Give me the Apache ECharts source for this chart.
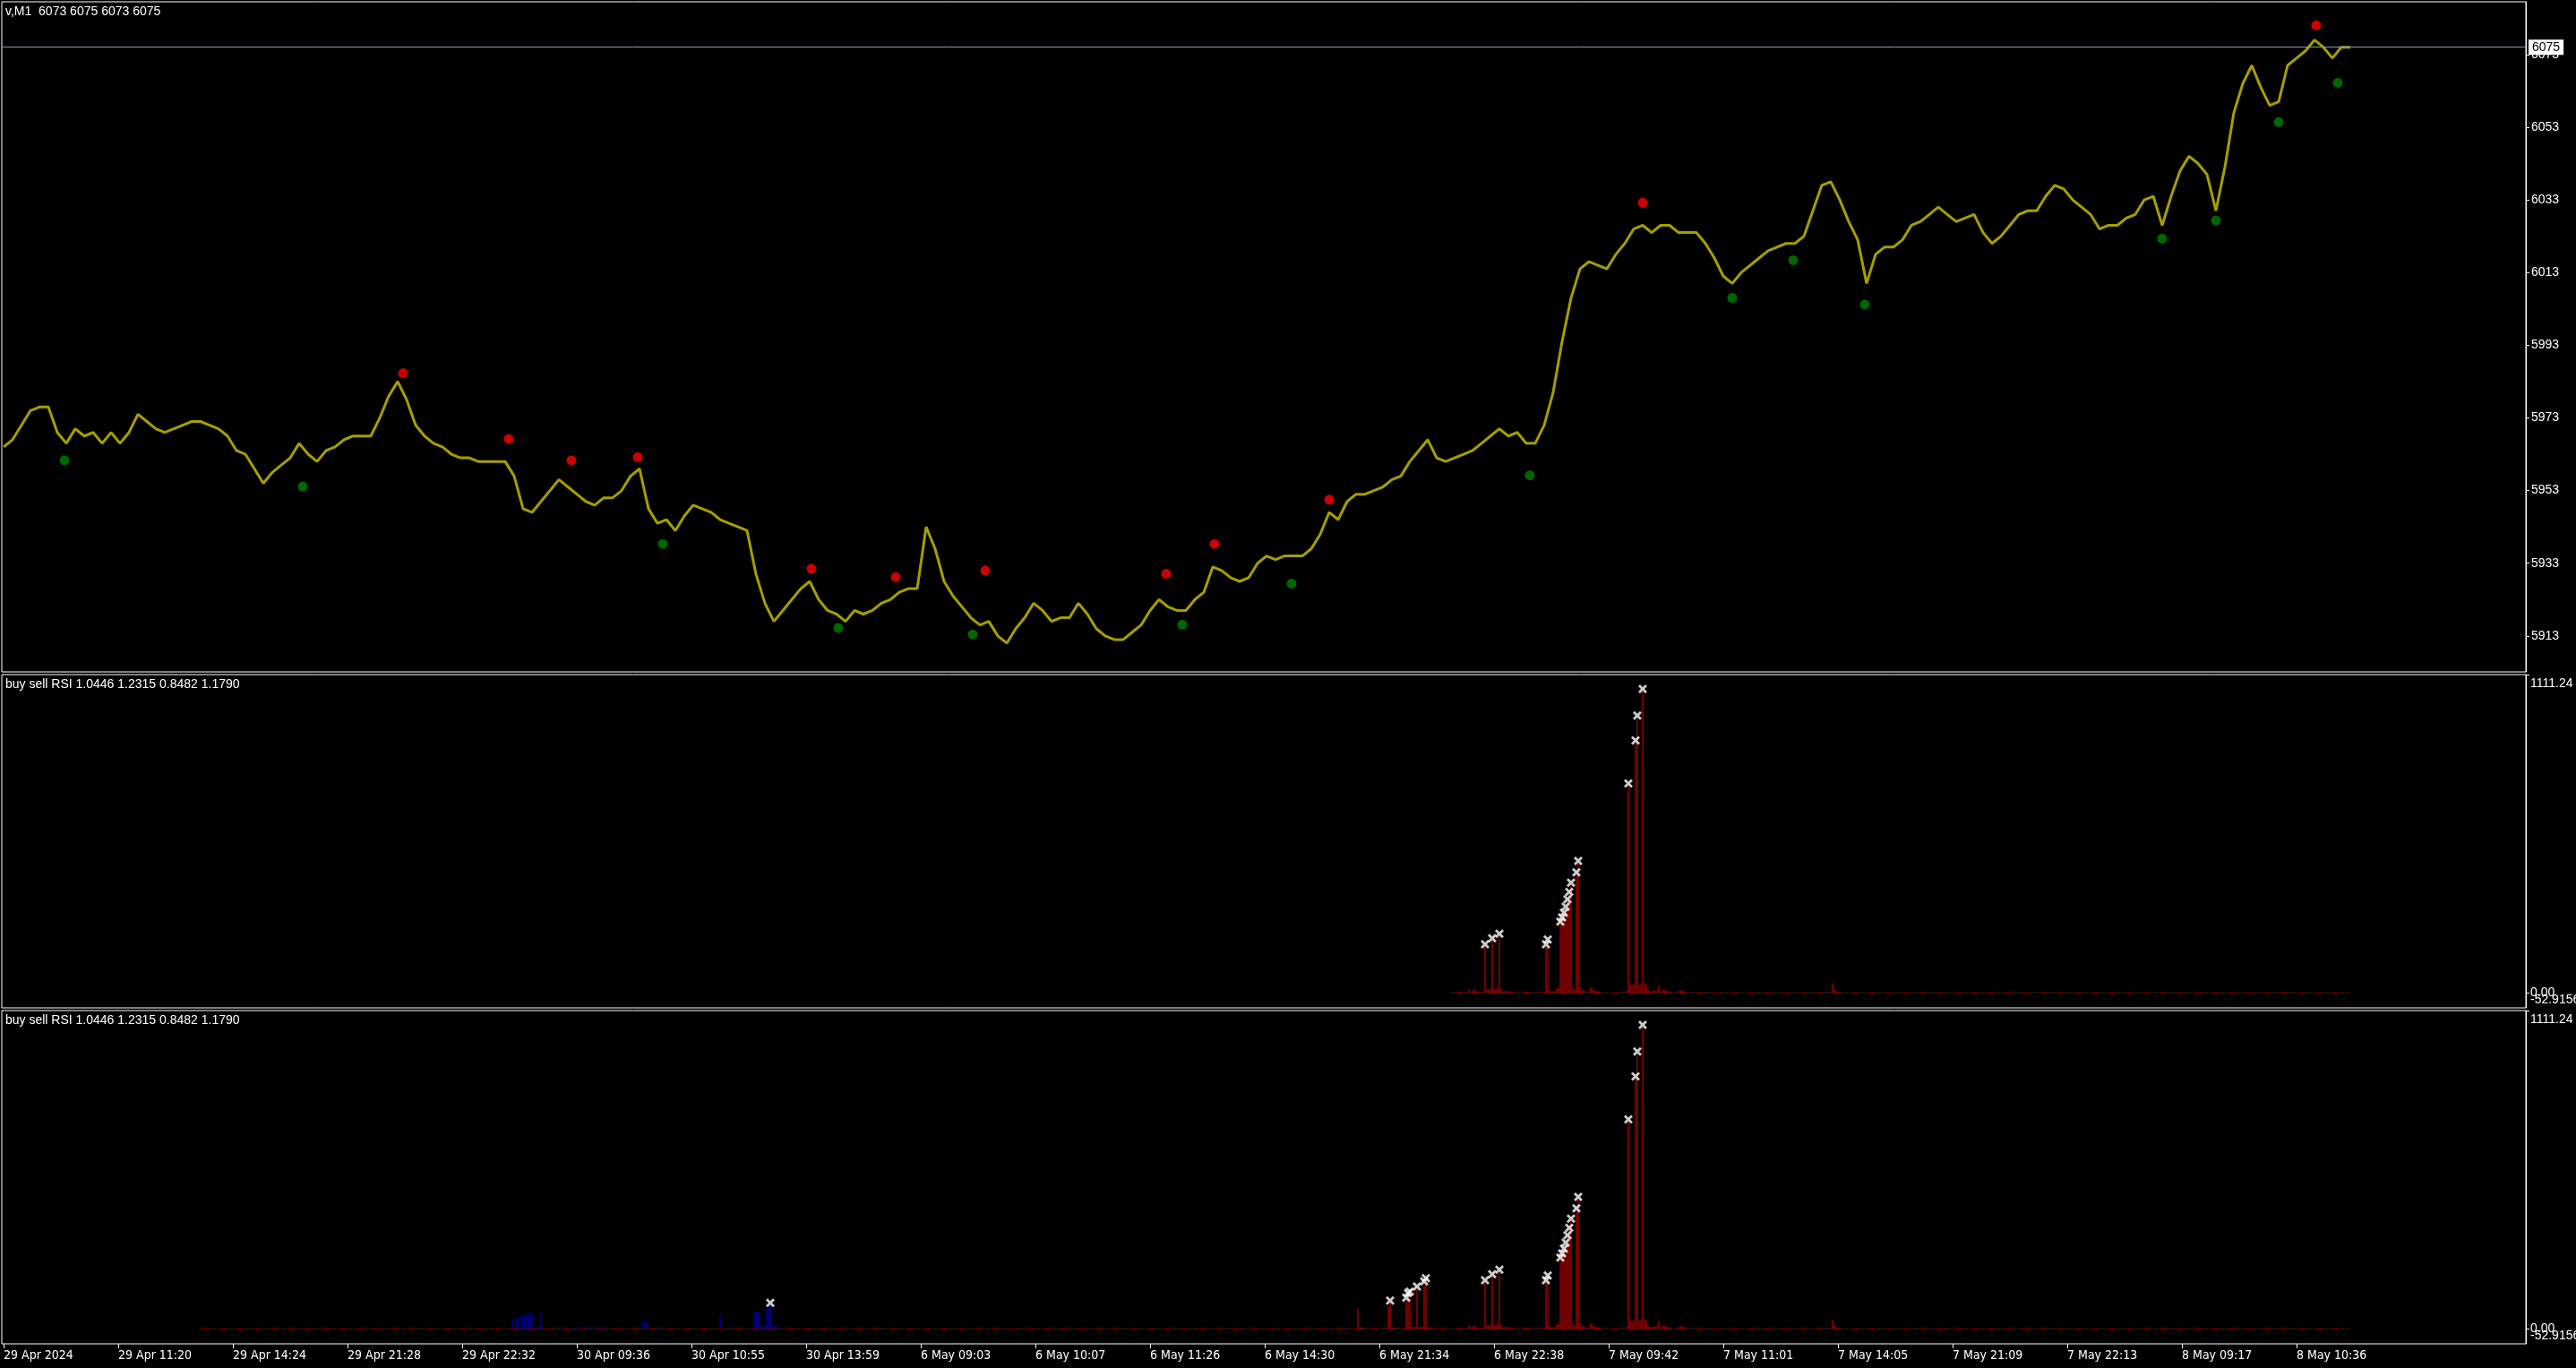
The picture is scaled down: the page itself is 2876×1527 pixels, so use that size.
<!DOCTYPE html>
<html><head><meta charset="utf-8">
<script src="https://cdn.jsdelivr.net/npm/echarts/dist/echarts.min.js"></script>
<style>html,body{margin:0;padding:0;background:#000;overflow:hidden}#c{width:2876px;height:1527px;}</style>
</head><body><div id="c"></div><script>
// ---------- data ----------
const timeLabels = ['29 Apr 2024','29 Apr 11:20','29 Apr 14:24','29 Apr 21:28','29 Apr 22:32','30 Apr 09:36','30 Apr 10:55','30 Apr 13:59','6 May 09:03','6 May 10:07','6 May 11:26','6 May 14:30','6 May 21:34','6 May 22:38','7 May 09:42','7 May 11:01','7 May 14:05','7 May 21:09','7 May 22:13','8 May 09:17','8 May 10:36'];
const barsPerLabel = 64;          // M1 bars between time labels
const barsPerPricePoint = 5;      // price sampled every 5 bars
const totalBars = 1408;
const closePrices = [
5965,5967,5971,5975,5976,5976,5969,5966,5970,5968,5969,5966,5969,5966,5969,5974,5972,5970,5969,5970,
5971,5972,5972,5971,5970,5968,5964,5963,5959,5955,5958,5960,5962,5966,5963,5961,5964,5965,5967,5968,
5968,5968,5973,5979,5983,5978,5971,5968,5966,5965,5963,5962,5962,5961,5961,5961,5961,5957,5948,5947,
5950,5953,5956,5954,5952,5950,5949,5951,5951,5953,5957,5959,5948,5944,5945,5942,5946,5949,5948,5947,
5945,5944,5943,5942,5930,5922,5917,5920,5923,5926,5928,5923,5920,5919,5917,5920,5919,5920,5922,5923,
5925,5926,5926,5943,5937,5928,5924,5921,5918,5916,5917,5913,5911,5915,5918,5922,5920,5917,5918,5918,
5922,5919,5915,5913,5912,5912,5914,5916,5920,5923,5921,5920,5920,5923,5925,5932,5931,5929,5928,5929,
5933,5935,5934,5935,5935,5935,5937,5941,5947,5945,5950,5952,5952,5953,5954,5956,5957,5961,5964,5967,
5962,5961,5962,5963,5964,5966,5968,5970,5968,5969,5966,5966,5971,5980,5994,6006,6014,6016,6015,6014,
6018,6021,6025,6026,6024,6026,6026,6024,6024,6024,6021,6017,6012,6010,6013,6015,6017,6019,6020,6021,
6021,6023,6030,6037,6038,6033,6027,6022,6010,6018,6020,6020,6022,6026,6027,6029,6031,6029,6027,6028,
6029,6024,6021,6023,6026,6029,6030,6030,6034,6037,6036,6033,6031,6029,6025,6026,6026,6028,6029,6033,
6034,6026,6034,6041,6045,6043,6040,6030,6042,6057,6065,6070,6064,6059,6060,6070,6072,6074,6077,6075,
6072,6075,6075];
const priceTicks = [5913,5933,5953,5973,5993,6013,6033,6053,6073];
const priceMin = 5903.1, priceMax = 6087.5;
const lastPrice = 6075;
const titleMain = 'v,M1  6073 6075 6073 6075';
const titleInd = 'buy sell RSI 1.0446 1.2315 0.8482 1.1790';
// signal dots: [bar index, price]
const sellDots = [[223,5985.3],[282,5967.2],[317,5961.3],[354,5962.2],[451,5931.5],[498,5929.2],[548,5931.0],[649,5930.1],[676,5938.3],[740,5950.5],[915,6032.2],[1291,6081.0]];
const buyDots = [[34,5961.3],[167,5954.1],[368,5938.3],[466,5915.2],[541,5913.4],[658,5916.1],[719,5927.4],[852,5957.2],[965,6006.0],[999,6016.4],[1039,6004.2],[1205,6022.3],[1235,6027.3],[1270,6054.4],[1303,6065.2]];
// indicator: [bar index, value]
const rsiMax = 1111.24, rsiMin = -52.9156;
const indStartFull = 110, indStartShort = 808, indEnd = 1310;
const markThreshold = 80;
const sellBars = [
[756,70],[757,3],[758,5],[759,3],[760,3],[766,4],[771,5],[773,78],[774,89],[776,4],[777,4],[778,3],[781,5],
[783,99],[784,115],[785,120],[786,6],[787,6],[788,6],[789,138],[790,6],[791,6],[792,6],[793,156],[794,167],
[795,5],[796,5],[797,5],[800,4],
[812,3],[818,12],[819,5],[820,5],[821,12],[822,5],[823,5],[827,160],[828,12],[829,12],[830,12],[831,181],
[832,12],[833,15],[834,15],[835,197],[836,15],[837,5],[838,5],[839,5],[840,5],[841,5],[849,4],[850,4],[857,5],
[861,160],[862,176],[863,10],[864,5],[865,5],[866,5],[867,15],[868,15],[869,239],[870,254],[871,270],[872,291],
[873,317],[874,343],[875,375],[876,20],[877,8],[878,411],[879,451],[880,20],[881,8],[882,8],[883,5],[886,20],
[887,10],[888,10],[889,5],[890,5],[891,5],[906,5],[907,722],[908,28],[909,28],[910,28],[911,872],[912,959],
[913,30],[914,30],[915,1052],[916,30],[917,30],[918,8],[919,5],[920,5],[921,8],[922,8],[923,8],[924,26],
[926,10],[927,10],[928,8],[929,6],[931,5],[935,5],[936,8],[937,8],[938,5],[1021,30],[1022,12],[1023,6]];
const buyBars = [
[284,31],[286,36],[287,42],[289,45],[290,45],[291,47],[292,49],[293,54],[294,54],[295,54],[296,7],[298,5],
[299,7],[300,60],[301,8],[307,5],[312,5],[320,5],[322,7],[324,8],[326,7],[328,8],[330,6],[332,8],[334,6],
[335,5],[357,24],[358,26],[359,26],[367,4],[400,45],[407,8],[419,55],[420,60],[421,60],[422,60],[423,8],
[424,6],[425,10],[426,68],[427,75],[428,81],[429,9],[430,9],[431,9],[432,8],[433,5]];

// ---------- chart ----------
const FONT = "'Liberation Sans', Arial, sans-serif";
const NARROW = "'Liberation Sans Narrow', 'DejaVu Sans Condensed', 'Arial Narrow', sans-serif";
const RED = '#e00000', BLUE = '#0000dd', PRICE = '#a69e00';
const xMarkPath = 'path://M0,2L2,0L5,3L8,0L10,2L7,5L10,8L8,10L5,7L2,10L0,8L3,5Z';
const labelValues = timeLabels.map((_, i) => i * barsPerLabel);

const chart = echarts.init(document.getElementById('c'), null, {renderer: 'canvas'});
const grids = [
  {left: 2, right: 56, top: 2, height: 748},
  {left: 2, right: 56, top: 753, height: 372},
  {left: 2, right: 56, top: 1128, height: 372}
].map(g => Object.assign(g, {show: true, borderColor: '#fff', borderWidth: 1, backgroundColor: 'transparent',
  containLabel: false, outerBoundsMode: 'none'}));

function xAxis(i, showLabels) {
  return {
    type: 'value', gridIndex: i, min: -1, max: totalBars, position: 'bottom',
    axisLine: {show: false, onZero: false}, splitLine: {show: false},
    axisTick: {show: showLabels, customValues: labelValues, length: 5, lineStyle: {color: '#fff'}},
    axisLabel: {show: showLabels, customValues: labelValues, align: 'left', margin: 6,
      color: '#fff', fontSize: 14, fontFamily: NARROW,
      formatter: v => timeLabels[Math.round(v / barsPerLabel)] || ''}
  };
}
// main indicator axis: ticks and labels for 0 and the window maximum
function indYAxis(i) {
  return {
    type: 'value', gridIndex: i, position: 'right', min: rsiMin, max: rsiMax,
    splitLine: {show: false},
    axisLine: {show: true, onZero: false, lineStyle: {color: '#fff'}},
    axisTick: {show: true, customValues: [0, rsiMax], length: 4, lineStyle: {color: '#fff'}},
    axisLabel: {
      customValues: [0, rsiMax], margin: 5, color: '#fff', fontSize: 14, fontFamily: FONT,
      showMinLabel: true, showMaxLabel: true, hideOverlap: false,
      formatter: v => Math.abs(v - rsiMax) < 1e-6 ? '{t|' + rsiMax.toFixed(2) + '}' : '{m|0.00}',
      rich: {
        t: {padding: [20, 0, 0, 0], color: '#fff', fontSize: 14, fontFamily: FONT},
        m: {color: '#fff', fontSize: 14, fontFamily: FONT}
      }
    }
  };
}
// second axis on the same grid, carrying only the window minimum label
function indMinAxis(i) {
  return {
    type: 'value', gridIndex: i, position: 'right', min: rsiMin, max: rsiMax,
    splitLine: {show: false}, axisLine: {show: false, onZero: false}, axisTick: {show: false},
    axisLabel: {
      customValues: [rsiMin], margin: 5, showMinLabel: true, hideOverlap: false,
      formatter: v => '{b|' + rsiMin.toFixed(4) + '}',
      rich: {b: {padding: [0, 0, 18, 0], color: '#fff', fontSize: 14, fontFamily: FONT}}
    }
  };
}
function marks(bars, from) {
  return bars.filter(b => b[0] >= from && b[1] > markThreshold);
}
function indSeries(axisIdx, from, withBuy) {
  const s = [
    {type: 'line', xAxisIndex: axisIdx, yAxisIndex: axisIdx, data: [[from, 0], [indEnd, 0]],
     symbol: 'none', silent: true, z: 1, lineStyle: {color: RED, width: 1, type: [1, 1]}},
    {type: 'bar', xAxisIndex: axisIdx, yAxisIndex: axisIdx, barWidth: 1, barGap: '-100%', z: 2,
     data: sellBars.filter(b => b[0] >= from), itemStyle: {color: RED}, silent: true}
  ];
  if (withBuy) s.push({type: 'bar', xAxisIndex: axisIdx, yAxisIndex: axisIdx, barWidth: 1, barGap: '-100%', z: 2,
     data: buyBars.filter(b => b[0] >= from), itemStyle: {color: BLUE}, silent: true});
  const mk = marks(sellBars, from).concat(withBuy ? marks(buyBars, from) : []);
  s.push({type: 'scatter', xAxisIndex: axisIdx, yAxisIndex: axisIdx, data: mk, symbol: xMarkPath,
     symbolSize: 10, symbolOffset: [0, -3], z: 5, itemStyle: {color: '#fff'}, silent: true});
  return s;
}

const option = {
  backgroundColor: '#000',
  animation: false,
  title: [
    {text: titleMain, left: 6, top: 6, padding: 0, textStyle: {color: '#fff', fontSize: 14, fontWeight: 'normal', fontFamily: FONT}},
    {text: titleInd, left: 6, top: 757, padding: 0, textStyle: {color: '#fff', fontSize: 14, fontWeight: 'normal', fontFamily: FONT}},
    {text: titleInd, left: 6, top: 1132, padding: 0, textStyle: {color: '#fff', fontSize: 14, fontWeight: 'normal', fontFamily: FONT}}
  ],
  grid: grids,
  xAxis: [xAxis(0, false), xAxis(1, false), xAxis(2, true)],
  yAxis: [
    {type: 'value', gridIndex: 0, position: 'right', min: priceMin, max: priceMax,
     splitLine: {show: false},
     axisLine: {show: true, onZero: false, lineStyle: {color: '#fff'}},
     axisTick: {show: true, customValues: priceTicks, length: 4, lineStyle: {color: '#fff'}},
     axisLabel: {customValues: priceTicks, margin: 6, color: '#fff', fontSize: 14, fontFamily: FONT,
       formatter: v => String(Math.round(v))}},
    indYAxis(1), indYAxis(2), indMinAxis(1), indMinAxis(2)
  ],
  series: [
    {type: 'line', xAxisIndex: 0, yAxisIndex: 0, name: 'price',
     data: closePrices.map((p, k) => [k * barsPerPricePoint, p]),
     symbol: 'none', silent: true, lineStyle: {color: PRICE, width: 3},
     markLine: {symbol: 'none', silent: true, data: [{yAxis: lastPrice}],
       lineStyle: {color: '#8898a8', width: 1, type: 'solid'},
       label: {show: true, position: 'end', distance: 3, formatter: String(lastPrice),
         color: '#000', backgroundColor: '#fff', padding: [2, 4, 1, 4], fontSize: 14, fontFamily: FONT}}},
    {type: 'scatter', xAxisIndex: 0, yAxisIndex: 0, data: sellDots, symbolSize: 11, itemStyle: {color: '#ff0000'}, z: 4, silent: true},
    {type: 'scatter', xAxisIndex: 0, yAxisIndex: 0, data: buyDots, symbolSize: 11, itemStyle: {color: '#008000'}, z: 4, silent: true}
  ].concat(indSeries(1, indStartShort, false), indSeries(2, indStartFull, true))
};
chart.setOption(option);
</script></body></html>
